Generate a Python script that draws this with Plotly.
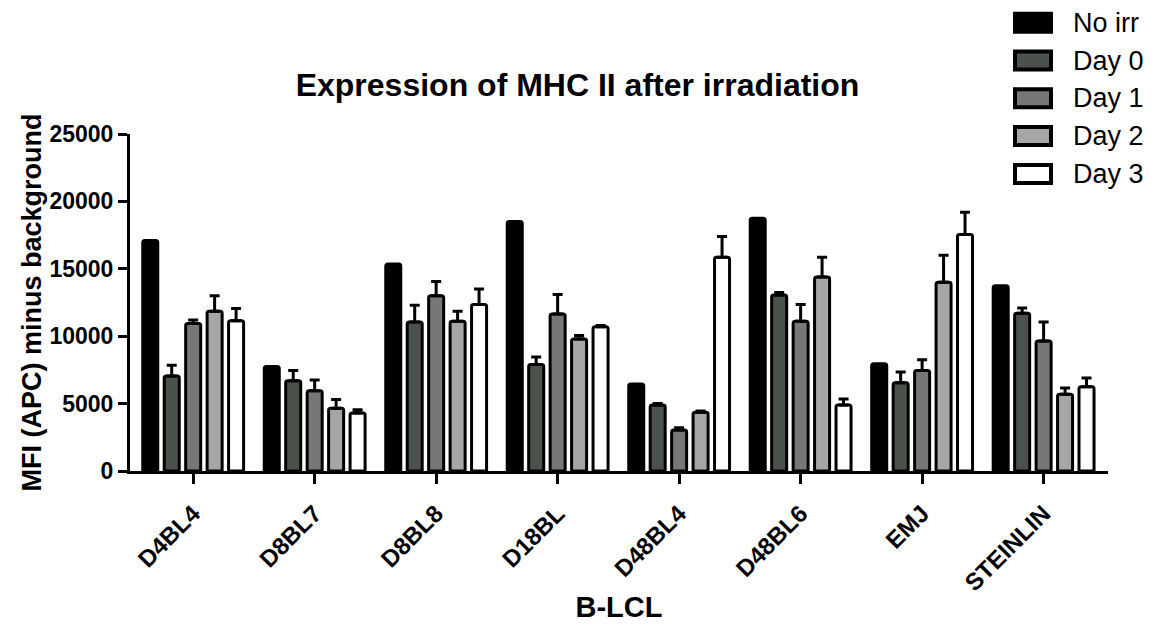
import plotly.graph_objects as go

categories = ["D4BL4", "D8BL7", "D8BL8", "D18BL", "D48BL4", "D48BL6", "EMJ", "STEINLIN"]
series_names = ["No irr", "Day 0", "Day 1", "Day 2", "Day 3"]

no_irr = [17100, 7750, 15350, 18500, 6450, 18750, 7950, 13750]
day0 = [7050, 6700, 11050, 7900, 4900, 13050, 6550, 11700]
day0_err = [800, 750, 1250, 550, 100, 200, 800, 400]
day1 = [10950, 5950, 13000, 11650, 3050, 11100, 7450, 9650]
day1_err = [250, 800, 1050, 1450, 150, 1250, 800, 1400]
day2 = [11850, 4650, 11100, 9800, 4350, 14400, 14000, 5700]
day2_err = [1150, 650, 750, 250, 100, 1450, 2000, 450]
day3 = [11150, 4300, 12350, 10700, 15850, 4900, 17550, 6250]
day3_err = [900, 250, 1150, 100, 1550, 450, 1650, 650]

values = [no_irr, day0, day1, day2, day3]
errors = [None, day0_err, day1_err, day2_err, day3_err]
colors = ["#000000", "#4b514b", "#777777", "#a6a6a6", "#ffffff"]

FONT = "Liberation Sans, Arial, sans-serif"
W, H = 1155, 628
ML, MR, MT, MB = 130, 47, 134, 157
PW, PH = W - ML - MR, H - MT - MB

fig = go.Figure()
for name, vals, err, col in zip(series_names, values, errors, colors):
    kw = {}
    if err is not None:
        kw["error_y"] = dict(type="data", array=err, arrayminus=[0] * len(err),
                             symmetric=False, color="#000000", thickness=3, width=5)
    fig.add_trace(go.Bar(
        x=categories, y=vals, name=name, showlegend=False,
        marker=dict(color=col, line=dict(color="#000000", width=3)),
        **kw,
    ))

# custom legend (wide rectangles like the original)
def px_to_paper_x(px):
    return (px - ML) / PW

def px_to_paper_y(py):
    return (H - MB - py) / PH

shapes, annotations = [], []
for i, (name, col) in enumerate(zip(series_names, colors)):
    yc = 22.7 + 37.8 * i
    shapes.append(dict(type="rect", xref="paper", yref="paper",
                       x0=px_to_paper_x(1015), x1=px_to_paper_x(1051),
                       y0=px_to_paper_y(yc + 9), y1=px_to_paper_y(yc - 9),
                       fillcolor=col, line=dict(color="#000000", width=4), layer="above"))
    annotations.append(dict(xref="paper", yref="paper", x=px_to_paper_x(1071),
                            y=px_to_paper_y(yc), xanchor="left", yanchor="middle",
                            text=name, showarrow=False,
                            font=dict(size=27, family=FONT, color="#000000")))

fig.update_layout(
    width=W, height=H,
    margin=dict(l=ML, r=MR, t=MT, b=MB, autoexpand=False),
    paper_bgcolor="white", plot_bgcolor="white",
    barmode="group", bargap=0.117, bargroupgap=0.3, barcornerradius=2,
    font=dict(family=FONT, color="#000000"),
    title=dict(text="Expression of MHC II after irradiation", x=0.5, xref="container",
               xanchor="center", y=1 - 85 / H, yref="container", yanchor="middle",
               font=dict(size=32, weight="bold", family=FONT, color="#000000")),
    shapes=shapes, annotations=annotations,
    showlegend=False,
)

fig.update_xaxes(
    range=[-0.52, 7.53], showline=True, linewidth=3, linecolor="#000000",
    ticks="outside", ticklen=10, tickwidth=3, tickcolor="#000000",
    tickangle=-45, ticklabelstandoff=6, automargin=False,
    tickfont=dict(size=24, weight="bold", family=FONT),
    showgrid=False, zeroline=False,
    title=dict(text="B-LCL", font=dict(size=29, weight="bold", family=FONT), standoff=2),
)
fig.update_yaxes(
    range=[0, 25000], dtick=5000, tickformat="d", showline=True, linewidth=3,
    linecolor="#000000", ticks="outside", ticklen=9, tickwidth=3, tickcolor="#000000",
    tickfont=dict(size=23, weight="bold", family=FONT), automargin=False,
    showgrid=False, zeroline=False,
    title=dict(text="MFI (APC) minus background", font=dict(size=27, weight="bold", family=FONT),
               standoff=0),
)

fig.write_html("out.html")
